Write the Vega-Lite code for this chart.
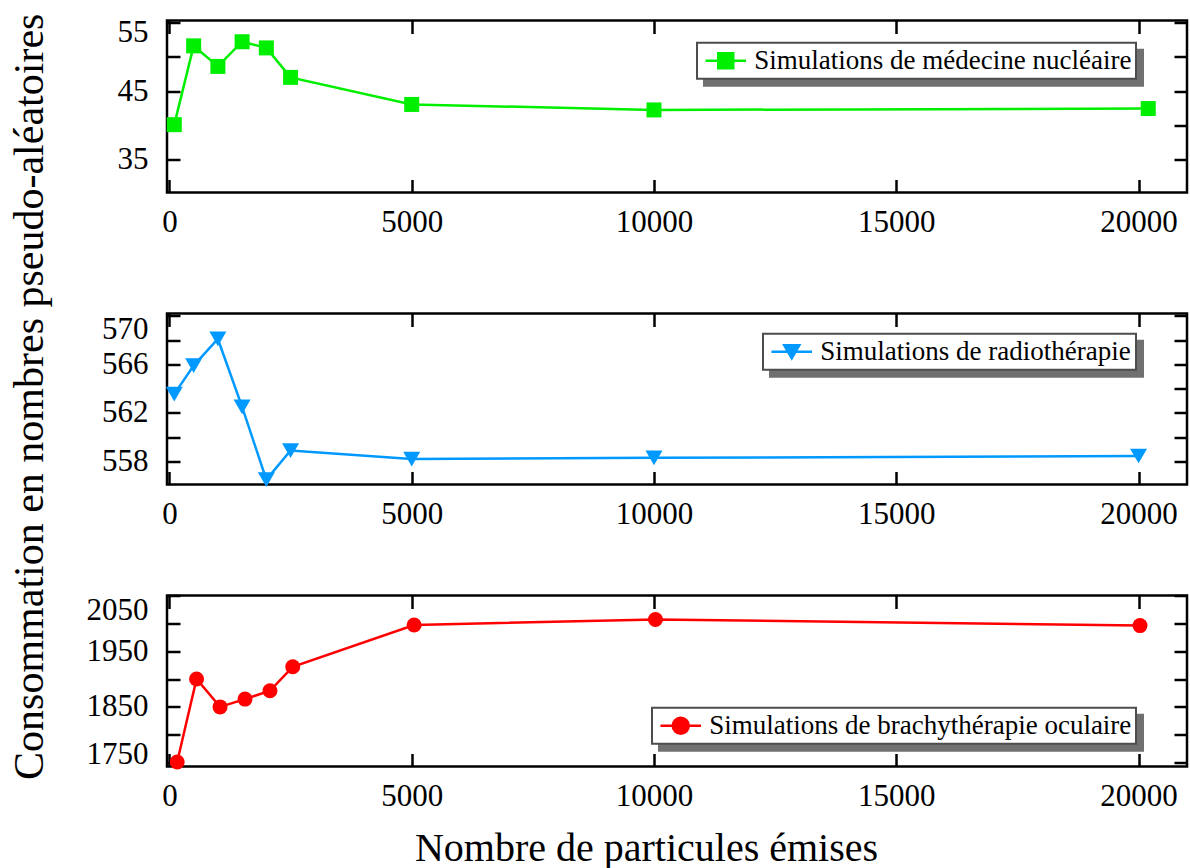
{
  "$schema": "https://vega.github.io/schema/vega-lite/v6.json",
  "background": "white",
  "padding": {"left": 9, "top": 13.5, "right": 0, "bottom": 0},
  "autosize": {"type": "pad"},
  "spacing": 0,
  "title": {"text": "Consommation en nombres pseudo-aléatoires", "orient": "left", "anchor": "middle", "font": "Liberation Serif", "fontSize": 42, "fontWeight": "normal", "color": "black", "offset": 32.6, "dx": 45.5},
  "datasets": {
    "nm": [
      {"particules": 100, "consommation": 40.1, "serie": "Simulations de médecine nucléaire"},
      {"particules": 500, "consommation": 51.6, "serie": "Simulations de médecine nucléaire"},
      {"particules": 1000, "consommation": 48.6, "serie": "Simulations de médecine nucléaire"},
      {"particules": 1500, "consommation": 52.2, "serie": "Simulations de médecine nucléaire"},
      {"particules": 2000, "consommation": 51.3, "serie": "Simulations de médecine nucléaire"},
      {"particules": 2500, "consommation": 47.0, "serie": "Simulations de médecine nucléaire"},
      {"particules": 5000, "consommation": 43.05, "serie": "Simulations de médecine nucléaire"},
      {"particules": 10000, "consommation": 42.25, "serie": "Simulations de médecine nucléaire"},
      {"particules": 20200, "consommation": 42.45, "serie": "Simulations de médecine nucléaire"}
    ],
    "rt": [
      {"particules": 100, "consommation": 563.55, "serie": "Simulations de radiothérapie"},
      {"particules": 500, "consommation": 565.9, "serie": "Simulations de radiothérapie"},
      {"particules": 1000, "consommation": 568.1, "serie": "Simulations de radiothérapie"},
      {"particules": 1500, "consommation": 562.5, "serie": "Simulations de radiothérapie"},
      {"particules": 2000, "consommation": 556.5, "serie": "Simulations de radiothérapie"},
      {"particules": 2500, "consommation": 558.9, "serie": "Simulations de radiothérapie"},
      {"particules": 5000, "consommation": 558.2, "serie": "Simulations de radiothérapie"},
      {"particules": 10000, "consommation": 558.3, "serie": "Simulations de radiothérapie"},
      {"particules": 20000, "consommation": 558.45, "serie": "Simulations de radiothérapie"}
    ],
    "bo": [
      {"particules": 160, "consommation": 1751, "serie": "Simulations de brachythérapie oculaire"},
      {"particules": 560, "consommation": 1900, "serie": "Simulations de brachythérapie oculaire"},
      {"particules": 1045, "consommation": 1850, "serie": "Simulations de brachythérapie oculaire"},
      {"particules": 1560, "consommation": 1864, "serie": "Simulations de brachythérapie oculaire"},
      {"particules": 2075, "consommation": 1879, "serie": "Simulations de brachythérapie oculaire"},
      {"particules": 2545, "consommation": 1922, "serie": "Simulations de brachythérapie oculaire"},
      {"particules": 5050, "consommation": 1997, "serie": "Simulations de brachythérapie oculaire"},
      {"particules": 10030, "consommation": 2007, "serie": "Simulations de brachythérapie oculaire"},
      {"particules": 20030, "consommation": 1996, "serie": "Simulations de brachythérapie oculaire"}
    ]
  },
  "config": {
    "view": {"stroke": "black", "strokeWidth": 2.5},
    "axis": {
      "domain": false, "grid": false,
      "labelFont": "Liberation Serif", "labelFontSize": 31, "labelColor": "black",
      "tickColor": "black", "tickWidth": 2.5, "tickSize": -13,
      "labelOverlap": false, "labelBound": false,
      "titleFont": "Liberation Serif", "titleFontWeight": "normal", "titleColor": "black"
    },
    "legend": {
      "labelFont": "Liberation Serif", "labelFontSize": 27, "labelLimit": 1000,
      "padding": 4.5, "symbolSize": 225, "symbolOffset": 10.75, "labelOffset": 15,
      "orient": "none", "title": null, "cornerRadius": 0, "strokeWidth": 2
    }
  },
  "resolve": {
    "scale": {"x": "independent", "y": "independent", "color": "independent", "shape": "independent"},
    "legend": {"color": "independent", "shape": "independent"}
  },
  "vconcat": [
    {
      "width": 1020, "height": 172,
      "data": {"name": "nm"},
      "layer": [
        {
          "mark": {"type": "line", "strokeWidth": 2.5},
          "encoding": {
            "x": {"field": "particules", "type": "quantitative",
              "scale": {"domain": [-50, 21000], "nice": false, "zero": false},
              "axis": {"orient": "bottom", "values": [0, 5000, 10000, 15000, 20000], "format": "d", "labelPadding": 28, "title": null, "minExtent": 116.7, "maxExtent": 116.7}},
            "y": {"field": "consommation", "type": "quantitative",
              "scale": {"domain": [30.2, 55.3], "nice": false, "zero": false},
              "axis": {"orient": "left", "values": [35, 40, 45, 50, 55], "format": "d", "labelExpr": "datum.value % 10 == 5 ? datum.label : ''", "labelPadding": 32, "labelFlush": 6, "labelFlushOffset": 5, "title": null}},
            "color": {"field": "serie", "type": "nominal", "scale": {"range": ["#00ee00"]},
              "legend": {"legendX": 530, "legendY": 22.3, "zindex": 1, "fillColor": "white", "strokeColor": "#4d4d4d", "labelColor": "black",
                "encode": {"symbols": {"update": {"fill": {"value": "#00ee00"}, "stroke": {"value": "#00ee00"}, "strokeWidth": {"value": 2.5}, "opacity": {"value": 1}, "shape": {"value": "M-2.7,0H2.7M-1,-1H1V1H-1Z"}}}}}}
          }
        },
        {
          "mark": {"type": "point", "filled": true, "size": 225, "color": "#00ee00", "opacity": 1},
          "encoding": {
            "x": {"field": "particules", "type": "quantitative",
              "axis": {"orient": "top", "values": [0, 5000, 10000, 15000, 20000], "labels": false, "title": null}},
            "y": {"field": "consommation", "type": "quantitative",
              "axis": {"orient": "right", "values": [35, 40, 45, 50, 55], "labels": false, "title": null}},
            "shape": {"field": "serie", "type": "nominal", "scale": {"range": ["square"]},
              "legend": {"legendX": 537, "legendY": 29.3, "zindex": 0, "fillColor": "#707070", "strokeColor": "#707070", "labelColor": "#707070", "labelOpacity": 0, "symbolOpacity": 0}}
          }
        }
      ],
      "resolve": {"axis": {"x": "independent", "y": "independent"}, "legend": {"color": "independent", "shape": "independent"}}
    },
    {
      "width": 1020, "height": 171,
      "data": {"name": "rt"},
      "layer": [
        {
          "mark": {"type": "line", "strokeWidth": 2.5},
          "encoding": {
            "x": {"field": "particules", "type": "quantitative",
              "scale": {"domain": [-50, 21000], "nice": false, "zero": false},
              "axis": {"orient": "bottom", "values": [0, 5000, 10000, 15000, 20000], "format": "d", "labelPadding": 28, "title": null, "minExtent": 106, "maxExtent": 106}},
            "y": {"field": "consommation", "type": "quantitative",
              "scale": {"domain": [556.1, 570.2], "nice": false, "zero": false},
              "axis": {"orient": "left", "values": [558, 560, 562, 564, 566, 568, 570], "format": "d", "labelExpr": "(datum.value - 558) % 4 == 0 ? datum.label : ''", "labelPadding": 32, "labelFlush": 6, "labelFlushOffset": 1.5, "title": null}},
            "color": {"field": "serie", "type": "nominal", "scale": {"range": ["#0099ff"]},
              "legend": {"legendX": 596, "legendY": 20.3, "zindex": 1, "fillColor": "white", "strokeColor": "#4d4d4d", "labelColor": "black",
                "encode": {"symbols": {"update": {"fill": {"value": "#0099ff"}, "stroke": {"value": "#0099ff"}, "strokeWidth": {"value": 2.5}, "opacity": {"value": 1}, "shape": {"value": "M-2.7,0H2.7M-1,-0.87H1L0,0.87Z"}}}}}}
          }
        },
        {
          "mark": {"type": "point", "filled": true, "size": 290, "color": "#0099ff", "opacity": 1},
          "encoding": {
            "x": {"field": "particules", "type": "quantitative",
              "axis": {"orient": "top", "values": [0, 5000, 10000, 15000, 20000], "labels": false, "title": null}},
            "y": {"field": "consommation", "type": "quantitative",
              "axis": {"orient": "right", "values": [558, 560, 562, 564, 566, 568, 570], "labels": false, "title": null}},
            "shape": {"field": "serie", "type": "nominal", "scale": {"range": ["triangle-down"]},
              "legend": {"legendX": 603, "legendY": 27.3, "zindex": 0, "fillColor": "#707070", "strokeColor": "#707070", "labelColor": "#707070", "labelOpacity": 0, "symbolOpacity": 0}}
          }
        }
      ],
      "resolve": {"axis": {"x": "independent", "y": "independent"}, "legend": {"color": "independent", "shape": "independent"}}
    },
    {
      "width": 1020, "height": 171,
      "data": {"name": "bo"},
      "layer": [
        {
          "mark": {"type": "line", "strokeWidth": 2.5},
          "encoding": {
            "x": {"field": "particules", "type": "quantitative",
              "scale": {"domain": [-50, 21000], "nice": false, "zero": false},
              "axis": {"orient": "bottom", "values": [0, 5000, 10000, 15000, 20000], "format": "d", "labelPadding": 28,
                "title": "Nombre de particules émises", "titleFontSize": 40, "titleX": 479, "titleY": 93.5, "titleAlign": "center", "titleBaseline": "alphabetic"}},
            "y": {"field": "consommation", "type": "quantitative",
              "scale": {"domain": [1743, 2050], "nice": false, "zero": false},
              "axis": {"orient": "left", "values": [1750, 1800, 1850, 1900, 1950, 2000, 2050], "format": "d", "labelExpr": "(datum.value - 1750) % 100 == 0 ? datum.label : ''", "labelPadding": 32, "labelFlush": 6, "title": null,
                "labelOffset": {"condition": {"test": "datum.value == 1750", "value": 8}, "value": 0}}},
            "color": {"field": "serie", "type": "nominal", "scale": {"range": ["#ff0000"]},
              "legend": {"legendX": 485, "legendY": 112.3, "zindex": 1, "fillColor": "white", "strokeColor": "#4d4d4d", "labelColor": "black",
                "encode": {"symbols": {"update": {"fill": {"value": "#ff0000"}, "stroke": {"value": "#ff0000"}, "strokeWidth": {"value": 2.5}, "opacity": {"value": 1}, "shape": {"value": "M-2.7,0H2.7M-1.07,0A1.07,1.07,0,1,1,1.07,0A1.07,1.07,0,1,1,-1.07,0Z"}}}}}}
          }
        },
        {
          "mark": {"type": "point", "filled": true, "size": 225, "color": "#ff0000", "opacity": 1},
          "encoding": {
            "x": {"field": "particules", "type": "quantitative",
              "axis": {"orient": "top", "values": [0, 5000, 10000, 15000, 20000], "labels": false, "title": null}},
            "y": {"field": "consommation", "type": "quantitative",
              "axis": {"orient": "right", "values": [1750, 1800, 1850, 1900, 1950, 2000, 2050], "labels": false, "title": null}},
            "shape": {"field": "serie", "type": "nominal", "scale": {"range": ["circle"]},
              "legend": {"legendX": 492, "legendY": 119.3, "zindex": 0, "fillColor": "#707070", "strokeColor": "#707070", "labelColor": "#707070", "labelOpacity": 0, "symbolOpacity": 0}}
          }
        }
      ],
      "resolve": {"axis": {"x": "independent", "y": "independent"}, "legend": {"color": "independent", "shape": "independent"}}
    }
  ]
}
